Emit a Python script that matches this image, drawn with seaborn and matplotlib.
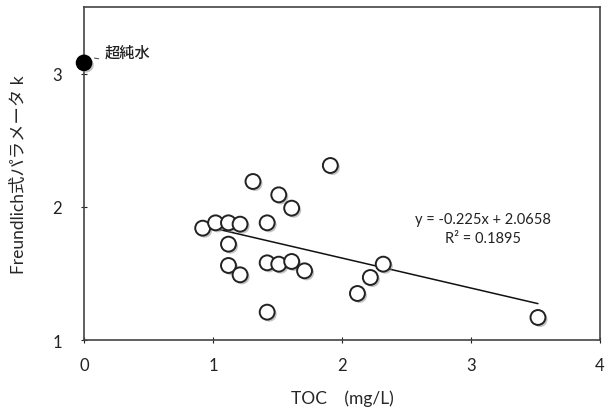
import numpy as np
import pandas as pd
import matplotlib
matplotlib.use("Agg")
import matplotlib.pyplot as plt
import matplotlib.patheffects as pe
import seaborn as sns

# TOC concentration (mg/L) and Freundlich k for the water samples
toc = [1.91, 1.31, 1.51, 1.61, 0.92, 1.02, 1.12, 1.21, 1.42, 1.12,
       1.12, 1.21, 1.42, 1.51, 1.61, 1.71, 2.32, 2.22, 2.12, 1.42, 3.52]
k_val = [2.31, 2.19, 2.09, 1.99, 1.84, 1.88, 1.88, 1.87, 1.88, 1.72,
         1.56, 1.49, 1.58, 1.57, 1.59, 1.52, 1.57, 1.47, 1.35, 1.21, 1.17]

# ultrapure water reference
pure_toc = [0.0]
pure_k = [3.08]
pure_label = "超純水"

# linear fit reported for the samples
slope = -0.225
intercept = 2.0658
r2 = 0.1895

x_ticks = [0, 1, 2, 3, 4]
y_ticks = [1, 2, 3]

sns.set_theme(style="white")
plt.rcParams["font.family"] = ["Lato", "Noto Sans CJK JP", "DejaVu Sans"]

fig = plt.figure(figsize=(6.09, 4.14), dpi=100)
ax = fig.add_axes([0.138, 0.176, 0.847, 0.805])

df = pd.DataFrame({"TOC": toc, "k": k_val})
shadow = [pe.SimplePatchShadow(offset=(1.5, -1.5), shadow_rgbFace="#888888", alpha=0.5), pe.Normal()]

sc = sns.scatterplot(data=df, x="TOC", y="k", ax=ax, s=115, color="white",
                     edgecolor="#222222", linewidth=1.4, zorder=3)
sc.collections[0].set_path_effects(shadow)

pdf = pd.DataFrame({"TOC": pure_toc, "k": pure_k})
sns.scatterplot(data=pdf, x="TOC", y="k", ax=ax, s=120, color="black",
                edgecolor="black", linewidth=1.0, zorder=4, clip_on=False)
ax.collections[-1].set_path_effects(shadow)

# trend line over the sample range
xl = np.array([min(toc), max(toc)])
sns.lineplot(x=xl, y=slope * xl + intercept, ax=ax, color="#111111", linewidth=1.1, zorder=2)

ax.text(3.09, 1.91, f"y = {slope}x + {intercept}", ha="center", va="center",
        fontsize=10.5, color="#222222")
ax.text(3.09, 1.765, f"R² = {r2}", ha="center", va="center",
        fontsize=10.5, color="#222222")

ax.annotate(pure_label, xy=(pure_toc[0] + 0.06, pure_k[0] + 0.04), xytext=(0.16, 3.16),
            fontsize=11, va="center", ha="left", weight="medium", color="#222222",
            family=["Noto Sans CJK JP", "DejaVu Sans"],
            arrowprops=dict(arrowstyle="-", color="#555555", lw=0.8,
                            connectionstyle="arc3,rad=-0.2"))

ax.set_xlim(0, 4)
ax.set_ylim(1, 3.5)
ax.set_xticks(x_ticks)
ax.set_yticks(y_ticks)
ax.tick_params(axis="both", labelsize=12, colors="#222222", length=4, width=0.8,
               direction="inout", bottom=True, left=True)
ax.tick_params(axis="x", pad=10)
ax.tick_params(axis="y", pad=14)
for s in ax.spines.values():
    s.set_color("#444444")
    s.set_linewidth(1.2)

ax.set_xlabel("TOC　(mg/L)", fontsize=12.5, labelpad=12,
              family=["Lato", "Noto Sans CJK JP", "DejaVu Sans"])
ax.set_ylabel("Freundlich式パラメータ k", fontsize=12.5, labelpad=18,
              family=["Lato", "Noto Sans CJK JP", "DejaVu Sans"])

fig.savefig("out.png", dpi=100)
